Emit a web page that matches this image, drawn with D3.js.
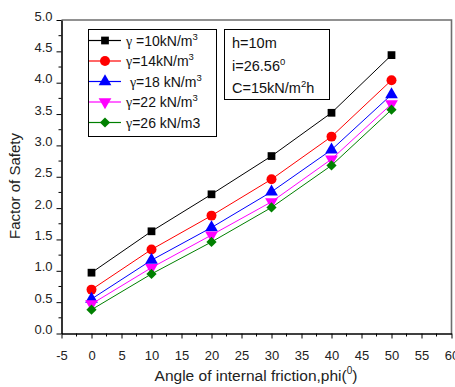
<!DOCTYPE html>
<html>
<head>
<meta charset="utf-8">
<script src="https://cdn.jsdelivr.net/npm/d3@7"></script>
<style>
  html, body { margin: 0; padding: 0; background: #fff; }
  svg { display: block; font-family: "Liberation Sans", Arial, sans-serif; }
</style>
</head>
<body>
<svg id="chart" width="455" height="387"></svg>
<script>
// Friction angle (degrees) at which the factor of safety was computed
const phi = [0, 10, 20, 30, 40, 50];

// Factor of safety for each unit weight
const fos10 = [0.97, 1.63, 2.22, 2.83, 3.52, 4.44];
const fos14 = [0.70, 1.34, 1.88, 2.46, 3.14, 4.04];
const fos18 = [0.55, 1.17, 1.69, 2.26, 2.93, 3.81];
const fos22 = [0.47, 1.05, 1.57, 2.10, 2.78, 3.66];
const fos26 = [0.38, 0.95, 1.46, 2.01, 2.68, 3.57];

const xTicks = [-5, 0, 5, 10, 15, 20, 25, 30, 35, 40, 45, 50, 55, 60];
const yTicks = [0.0, 0.5, 1.0, 1.5, 2.0, 2.5, 3.0, 3.5, 4.0, 4.5, 5.0];

// label: [leading space, gamma, text, superscript]
const seriesList = [
  { values: fos10, color: "#000000", symbol: d3.symbolSquare, size: 60, rot: 0, label: ["", "γ", " =10kN/m", "3"] },
  { values: fos14, color: "#ff0000", symbol: d3.symbolCircle, size: 78, rot: 0, label: ["", "γ", "=14kN/m", "3"] },
  { values: fos18, color: "#0000ff", symbol: d3.symbolTriangle, size: 70, rot: 0, label: [" ", "γ", "=18 kN/m", "3"] },
  { values: fos22, color: "#ff00ff", symbol: d3.symbolTriangle, size: 70, rot: 180, label: ["", "γ", "=22 kN/m", "3"] },
  { values: fos26, color: "#008000", symbol: d3.symbolSquare, size: 52, rot: 45, label: ["", "γ", "=26 kN/m3", ""] }
];

const svg = d3.select("#chart");
const mLeft = 61.5, mRight = 451.5, mTop = 20, mBottom = 333.5;

const x = d3.scaleLinear().domain([-5, 60]).range([mLeft, mRight]);
const y = d3.scaleLinear().domain([0, 5]).range([mBottom, mTop]);

// Plot frame (top and right edges)
svg.append("path")
  .attr("d", `M${mLeft},${mTop}H${mRight}V${mBottom}`)
  .attr("fill", "none").attr("stroke", "#6e6e6e").attr("stroke-width", 1.6);

// Minor ticks
const xMinor = d3.range(-2.5, 60, 5);
const yMinor = d3.range(0.25, 5, 0.5);
svg.append("g").selectAll("line").data(xMinor).join("line")
  .attr("x1", d => x(d)).attr("x2", d => x(d))
  .attr("y1", mBottom).attr("y2", mBottom + 3)
  .attr("stroke", "#000").attr("stroke-width", 1);
svg.append("g").selectAll("line").data(yMinor).join("line")
  .attr("y1", d => y(d)).attr("y2", d => y(d))
  .attr("x1", mLeft).attr("x2", mLeft - 3)
  .attr("stroke", "#000").attr("stroke-width", 1);

// Axes
const xAxis = svg.append("g").attr("transform", `translate(0,${mBottom})`)
  .call(d3.axisBottom(x).tickValues(xTicks).tickSize(5).tickSizeOuter(0).tickFormat(d => String(d)));
const yAxis = svg.append("g").attr("transform", `translate(${mLeft},0)`)
  .call(d3.axisLeft(y).tickValues(yTicks).tickSize(5).tickSizeOuter(0).tickFormat(d3.format(".1f")));

[xAxis, yAxis].forEach(g => {
  g.select(".domain").attr("stroke", "#000").attr("stroke-width", 1.6);
  g.selectAll(".tick line").attr("stroke", "#000").attr("stroke-width", 1);
  g.selectAll(".tick text").attr("fill", "#222").style("font-size", "13px")
    .style("font-family", "'Liberation Sans', Arial, sans-serif");
});
xAxis.selectAll(".tick text").attr("y", 17);
yAxis.selectAll(".tick text").attr("x", -9).attr("dy", "0.0em");

// Axis titles
svg.append("text")
  .attr("x", 256).attr("y", 381).attr("text-anchor", "middle")
  .style("font-size", "15.5px").attr("fill", "#222")
  .call(t => {
    t.append("tspan").text("Angle of internal friction,phi(");
    t.append("tspan").attr("dy", -7).style("font-size", "10px").text("0");
    t.append("tspan").attr("dy", 7).text(")");
  });
svg.append("text")
  .attr("transform", "translate(20,186) rotate(-90)")
  .attr("text-anchor", "middle")
  .style("font-size", "15px").attr("fill", "#222")
  .text("Factor of Safety");

// Series lines and markers
const line = d3.line().x((d, i) => x(phi[i])).y(d => y(d));
seriesList.forEach(s => {
  svg.append("path").datum(s.values)
    .attr("d", line).attr("fill", "none")
    .attr("stroke", s.color).attr("stroke-width", 1);
  svg.append("g").selectAll("path").data(s.values).join("path")
    .attr("d", d3.symbol().type(s.symbol).size(s.size))
    .attr("transform", (d, i) => `translate(${x(phi[i])},${y(d)}) rotate(${s.rot})`)
    .attr("fill", s.color);
});

// Legend
const lg = svg.append("g");
lg.append("rect").attr("x", 88.5).attr("y", 29.5).attr("width", 128).attr("height", 107)
  .attr("fill", "#fff").attr("stroke", "#000").attr("stroke-width", 1);
seriesList.forEach((s, i) => {
  const ly = 40.5 + i * 20.5;
  lg.append("line").attr("x1", 89).attr("x2", 121).attr("y1", ly).attr("y2", ly)
    .attr("stroke", s.color).attr("stroke-width", 1.2);
  lg.append("path").attr("d", d3.symbol().type(s.symbol).size(s.size)())
    .attr("transform", `translate(105,${ly}) rotate(${s.rot})`).attr("fill", s.color);
  const t = lg.append("text").attr("x", 126).attr("y", ly + 5)
    .style("font-size", "14px").attr("fill", "#111").attr("xml:space", "preserve");
  if (s.label[0]) t.append("tspan").text(s.label[0]);
  t.append("tspan").style("font-family", "'Liberation Serif', 'DejaVu Serif', serif").text(s.label[1]);
  t.append("tspan").text(s.label[2]);
  if (s.label[3]) t.append("tspan").attr("dy", -6).style("font-size", "9.5px").text(s.label[3]);
});

// Slope parameters box
const pb = svg.append("g");
pb.append("rect").attr("x", 224.5).attr("y", 29.5).attr("width", 105).attr("height", 70)
  .attr("fill", "#fff").attr("stroke", "#000").attr("stroke-width", 1);
const pLines = [["h=10m", "", ""], ["i=26.56", "0", ""], ["C=15kN/m", "2", "h"]];
pLines.forEach((p, i) => {
  const t = pb.append("text").attr("x", 232).attr("y", 48 + i * 22.5)
    .style("font-size", "14.5px").attr("fill", "#111");
  t.append("tspan").text(p[0]);
  if (p[1]) t.append("tspan").attr("dy", -6).style("font-size", "9.5px").text(p[1]);
  if (p[2]) t.append("tspan").attr("dy", 6).text(p[2]);
});
</script>
</body>
</html>
